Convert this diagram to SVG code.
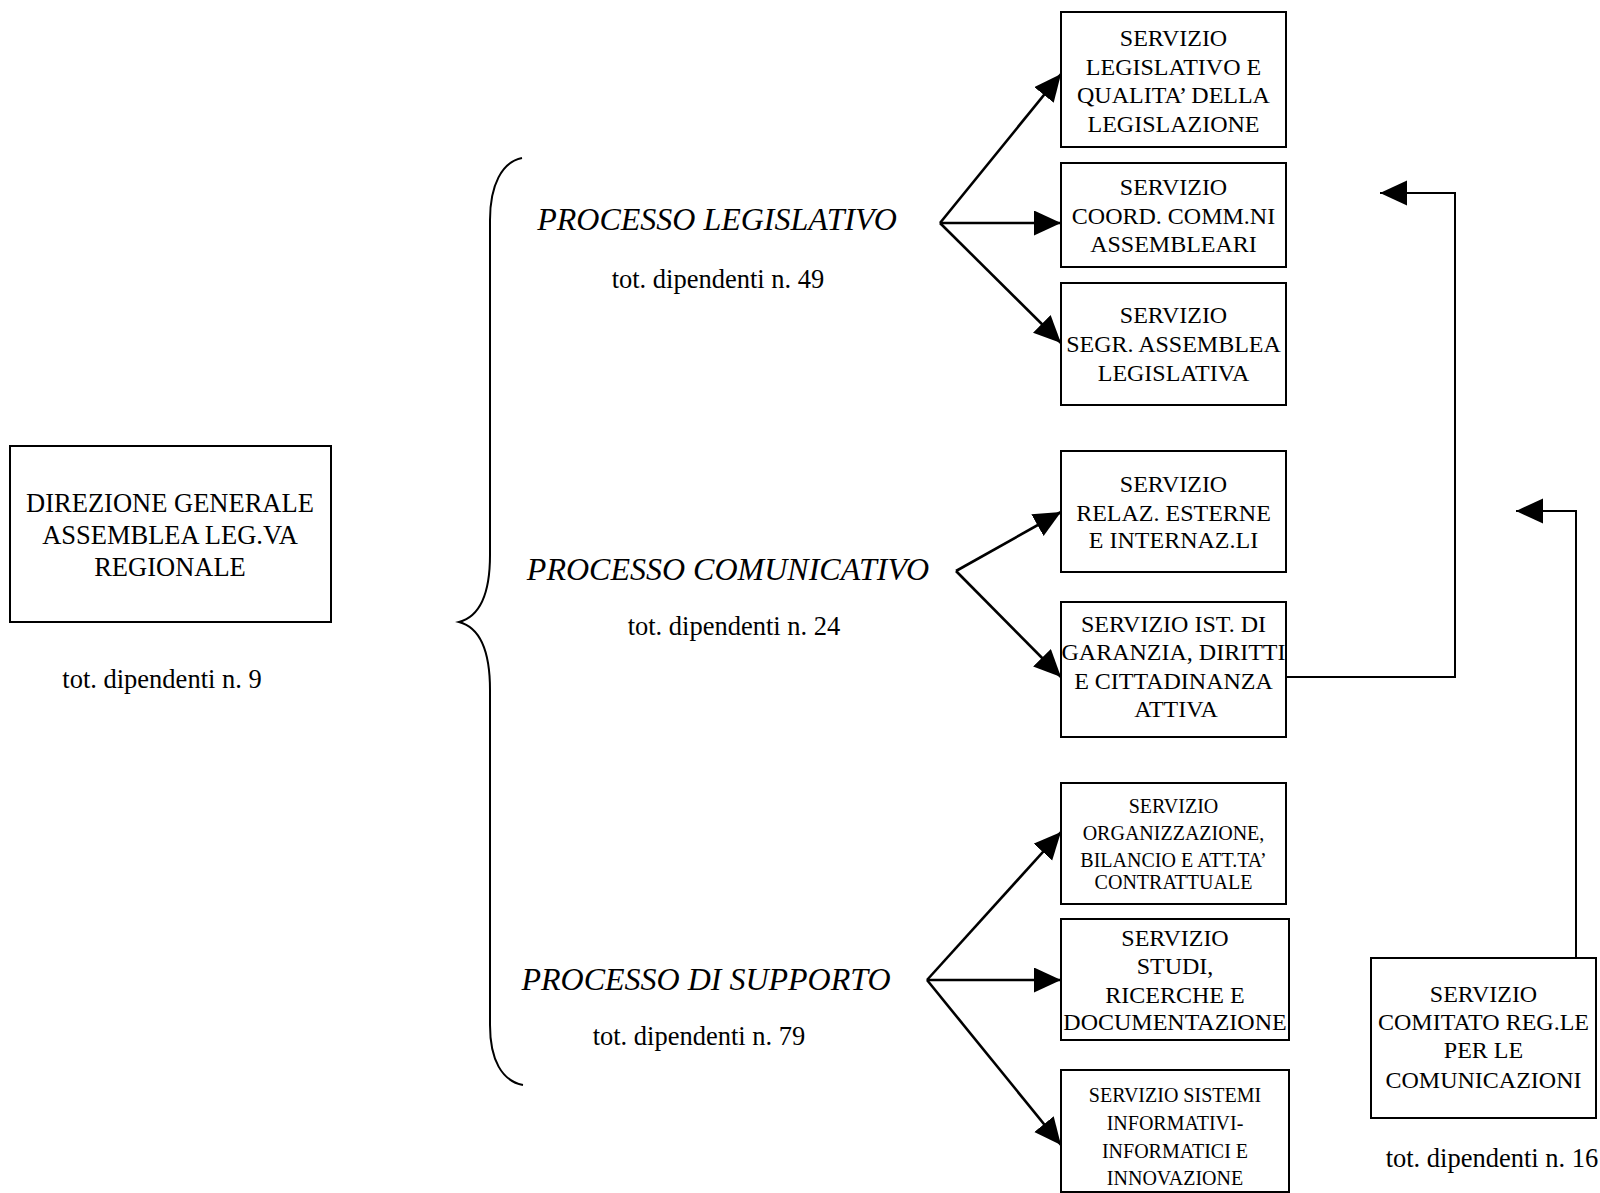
<svg xmlns="http://www.w3.org/2000/svg" width="1600" height="1193" viewBox="0 0 1600 1193">
<style>
text{font-family:"Liberation Serif","Times New Roman",serif;fill:#000;text-anchor:middle}
.b{font-size:24px}
.s{font-size:20px}
.big{font-size:26.5px}
.proc{font-size:32px;font-style:italic}
.box{fill:#fff;stroke:#000;stroke-width:2}
.arr{fill:none;stroke:#000;stroke-width:2.6}
.lnk{fill:none;stroke:#000;stroke-width:2}
</style>
<defs>
<marker id="ah" markerUnits="userSpaceOnUse" markerWidth="28" markerHeight="26" refX="27" refY="12.5" orient="auto" viewBox="0 0 28 26">
<path d="M0,0 L27,12.5 L0,25 Z" fill="#000"/>
</marker>
</defs>
<rect width="1600" height="1193" fill="#fff"/>

<g id="connectors">
<path class="arr" d="M940,223 L1061,74" marker-end="url(#ah)"/>
<path class="arr" d="M940,223 L1061,223" marker-end="url(#ah)"/>
<path class="arr" d="M940,223 L1061,343" marker-end="url(#ah)"/>
<path class="arr" d="M956,571 L1061,512" marker-end="url(#ah)"/>
<path class="arr" d="M956,571 L1061,677" marker-end="url(#ah)"/>
<path class="arr" d="M927,980 L1061,832" marker-end="url(#ah)"/>
<path class="arr" d="M927,980 L1061,980" marker-end="url(#ah)"/>
<path class="arr" d="M927,980 L1061,1145" marker-end="url(#ah)"/>
<path class="lnk" d="M1287,677 H1455 V193 H1380" marker-end="url(#ah)"/>
<path class="lnk" d="M1576,965 V511 H1516" marker-end="url(#ah)"/>
</g>

<g id="brace">
<path fill="none" stroke="#000" stroke-width="2" d="M522,158 C502,162 490,185 490,220 L490,555 C490,598 478,617 459,622 C478,627 490,646 490,690 L490,1025 C490,1060 502,1081 523,1085"/>
</g>

<g id="direzione">
<rect class="box" x="10" y="446" width="321" height="176"/>
<text class="big" x="170" y="512">DIREZIONE GENERALE</text>
<text class="big" x="170" y="544">ASSEMBLEA LEG.VA</text>
<text class="big" x="170" y="576">REGIONALE</text>
<text class="big" x="162" y="688">tot. dipendenti n. 9</text>
</g>

<g id="proc-legislativo">
<text class="proc" x="717" y="230">PROCESSO LEGISLATIVO</text>
<text class="big" x="718" y="288">tot. dipendenti n. 49</text>
</g>
<g id="proc-comunicativo">
<text class="proc" x="728" y="580">PROCESSO COMUNICATIVO</text>
<text class="big" x="734" y="635">tot. dipendenti n. 24</text>
</g>
<g id="proc-supporto">
<text class="proc" x="706" y="990">PROCESSO DI SUPPORTO</text>
<text class="big" x="699" y="1045">tot. dipendenti n. 79</text>
</g>

<g id="s-legislativo">
<rect class="box" x="1061" y="12" width="225" height="135"/>
<text class="b" x="1173.5" y="46">SERVIZIO</text>
<text class="b" x="1173.5" y="75">LEGISLATIVO E</text>
<text class="b" x="1173.5" y="103">QUALITA’ DELLA</text>
<text class="b" x="1173.5" y="132">LEGISLAZIONE</text>
</g>
<g id="s-coord">
<rect class="box" x="1061" y="163" width="225" height="104"/>
<text class="b" x="1173.5" y="195">SERVIZIO</text>
<text class="b" x="1173.5" y="224">COORD. COMM.NI</text>
<text class="b" x="1173.5" y="252">ASSEMBLEARI</text>
</g>
<g id="s-segr">
<rect class="box" x="1061" y="283" width="225" height="122"/>
<text class="b" x="1173.5" y="323">SERVIZIO</text>
<text class="b" x="1173.5" y="352">SEGR. ASSEMBLEA</text>
<text class="b" x="1173.5" y="381">LEGISLATIVA</text>
</g>
<g id="s-relaz">
<rect class="box" x="1061" y="451" width="225" height="121"/>
<text class="b" x="1173.5" y="492">SERVIZIO</text>
<text class="b" x="1173.5" y="521">RELAZ. ESTERNE</text>
<text class="b" x="1173.5" y="548">E INTERNAZ.LI</text>
</g>
<g id="s-garanzia">
<rect class="box" x="1061" y="602" width="225" height="135"/>
<text class="b" x="1173.5" y="632">SERVIZIO IST. DI</text>
<text class="b" x="1173.5" y="660">GARANZIA, DIRITTI</text>
<text class="b" x="1173.5" y="689">E CITTADINANZA</text>
<text class="b" x="1176" y="717">ATTIVA</text>
</g>
<g id="s-organizzazione">
<rect class="box" x="1061" y="783" width="225" height="121"/>
<text class="s" x="1173.5" y="813">SERVIZIO</text>
<text class="s" x="1173.5" y="840">ORGANIZZAZIONE,</text>
<text class="s" x="1173.5" y="867">BILANCIO E ATT.TA’</text>
<text class="s" x="1173.5" y="889">CONTRATTUALE</text>
</g>
<g id="s-studi">
<rect class="box" x="1061" y="919" width="228" height="121"/>
<text class="b" x="1175" y="946">SERVIZIO</text>
<text class="b" x="1175" y="974">STUDI,</text>
<text class="b" x="1175" y="1003">RICERCHE E</text>
<text class="b" x="1175" y="1030">DOCUMENTAZIONE</text>
</g>
<g id="s-sistemi">
<rect class="box" x="1061" y="1070" width="228" height="122"/>
<text class="s" x="1175" y="1102">SERVIZIO SISTEMI</text>
<text class="s" x="1175" y="1130">INFORMATIVI-</text>
<text class="s" x="1175" y="1158">INFORMATICI E</text>
<text class="s" x="1175" y="1185">INNOVAZIONE</text>
</g>
<g id="s-comitato">
<rect class="box" x="1371" y="958" width="225" height="160"/>
<text class="b" x="1483.5" y="1002">SERVIZIO</text>
<text class="b" x="1483.5" y="1030">COMITATO REG.LE</text>
<text class="b" x="1483.5" y="1058">PER LE</text>
<text class="b" x="1483.5" y="1088">COMUNICAZIONI</text>
<text class="big" x="1492" y="1167">tot. dipendenti n. 16</text>
</g>
</svg>
